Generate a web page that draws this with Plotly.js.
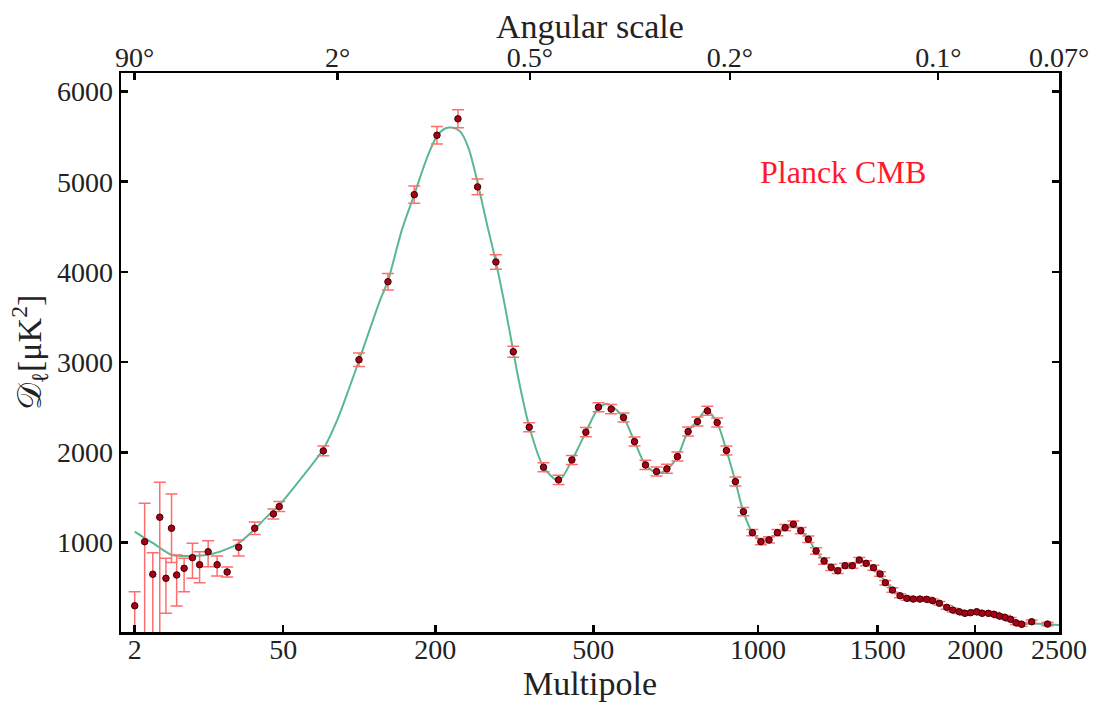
<!DOCTYPE html>
<html>
<head>
<meta charset="utf-8">
<script src="https://cdn.plot.ly/plotly-3.0.1.min.js"></script>
<style>html,body{margin:0;padding:0;background:#fff;}#chart{width:1109px;height:702px;}</style>
</head>
<body>
<div id="chart"></div>
<script>
// ---- data ----
const dataEll = [2, 3, 4, 5, 6, 7, 8, 9.6, 11.6, 13.5, 16, 18.9, 22.5, 27.1, 34.4, 44.2, 47.6, 78.1, 109.7, 140.2, 171.9, 202.4, 233.3, 264.6, 296, 327.7, 358.6, 387.7, 419.7, 449.5, 482, 512.5, 544.3, 576.3, 605.8, 636.2, 667.5, 697.8, 729.6, 762.5, 792, 824.3, 856.5, 888, 919, 947.2, 979.6, 1010.4, 1041, 1072.7, 1102.6, 1135, 1164.8, 1195.6, 1227.4, 1261, 1290.8, 1319.6, 1351.4, 1384, 1415, 1446.4, 1480, 1511, 1536, 1570, 1607, 1640, 1672.6, 1706, 1740, 1771, 1806, 1845, 1877, 1912, 1943, 1974, 2008, 2039, 2074, 2106, 2137, 2170, 2203, 2235, 2269, 2329.6, 2428];
const dataD = [301, 1011, 650, 1282, 605, 1160, 642, 716, 834, 756, 900, 756, 675, 949, 1160, 1318, 1400, 2017, 3027, 3892, 4857, 5515, 5697, 4943, 4111, 3116, 2280, 1836, 1696, 1917, 2225, 2502, 2480, 2387, 2120, 1862, 1788, 1818, 1954, 2231, 2342, 2461, 2331, 2021, 1677, 1344, 1111, 1011, 1030, 1111, 1166, 1204, 1133, 1038, 908, 797, 727, 689, 745, 745, 808, 771, 723, 653, 556, 475, 412, 383, 375, 375, 372, 357, 328, 283, 253, 235, 217, 224, 235, 217, 217, 206, 187, 172, 150, 112, 95, 124, 98];
const errPlus = [155, 426, 239, 388, 222, 380, 221, 110, 159, 144, 122, 96, 55, 81, 70, 55, 55, 55, 74, 92, 96, 98, 100, 87, 80, 60, 50, 50, 50, 50, 50, 50, 50, 50, 50, 50, 50, 50, 50, 50, 50, 50, 50, 50, 50, 45, 35, 35, 35, 35, 35, 35, 35, 35, 35, 35, 35, 30, 28, 28, 28, 28, 28, 25, 25, 25, 22, 22, 22, 22, 22, 20, 20, 20, 20, 20, 20, 20, 20, 20, 20, 20, 20, 20, 20, 20, 20, 20, 20];
const errMinus = [300, 1011, 650, 1282, 388, 380, 344, 260, 229, 200, 166, 126, 55, 96, 70, 55, 55, 55, 74, 92, 96, 98, 100, 87, 80, 60, 50, 50, 50, 50, 50, 50, 50, 50, 50, 50, 50, 50, 50, 50, 50, 50, 50, 50, 50, 45, 35, 35, 35, 35, 35, 35, 35, 35, 35, 35, 35, 30, 28, 28, 28, 28, 28, 25, 25, 25, 22, 22, 22, 22, 22, 20, 20, 20, 20, 20, 20, 20, 20, 20, 20, 20, 20, 20, 20, 20, 20, 20, 20];

const curveEll = [2, 3, 4.1, 5.5, 7.1, 11, 16.7, 22, 27, 34.4, 40, 48, 61, 78, 90, 100, 110, 131.7, 140, 156.6, 172, 188.6, 202, 214, 224, 237, 250, 265, 280, 296, 310, 328, 338, 359, 388, 420, 450, 482, 512, 533, 544, 576, 606, 636, 670, 698, 730, 762, 792, 820, 856, 888, 919, 947, 980, 1015, 1041, 1073, 1103, 1135, 1165, 1196, 1227, 1261, 1291, 1320, 1351, 1384, 1415, 1446, 1480, 1511, 1536, 1570, 1607, 1640, 1673, 1706, 1740, 1771, 1806, 1845, 1877, 1912, 1943, 1974, 2008, 2039, 2074, 2106, 2137, 2170, 2203, 2235, 2269, 2330, 2428, 2500];
const curveD = [1122, 1050, 993, 920, 864, 853, 871, 925, 993, 1149, 1275, 1425, 1700, 2035, 2370, 2700, 3027, 3693, 3895, 4469, 4860, 5265, 5500, 5590, 5600, 5555, 5370, 4980, 4543, 4111, 3693, 3116, 2805, 2280, 1836, 1688, 1917, 2225, 2490, 2539, 2520, 2390, 2120, 1862, 1770, 1810, 1954, 2231, 2350, 2470, 2331, 2021, 1677, 1344, 1111, 1020, 1040, 1105, 1165, 1195, 1133, 1038, 908, 797, 730, 700, 735, 765, 795, 775, 725, 650, 565, 480, 415, 385, 375, 372, 368, 355, 328, 285, 255, 235, 222, 222, 228, 220, 215, 205, 188, 170, 148, 118, 100, 105, 98, 87];

const bottomTicks = [2, 50, 200, 500, 1000, 1500, 2000, 2500];
const bottomLabels = ['2', '50', '200', '500', '1000', '1500', '2000', '2500'];
const topTickEll = [2, 90, 360, 900, 1800, 2500];
const topLabels = ['90°', '2°', '0.5°', '0.2°', '0.1°', '0.07°'];
const yTicks = [1000, 2000, 3000, 4000, 5000, 6000];

// ---- axis scale: multipole axis is linear in ell^0.4 ----
const P = 0.4;
const toU = l => Math.pow(l, P);
const xRange = [toU(1), toU(2500)];
const yRange = [10, 6205];

const serif = 'Liberation Serif, Times New Roman, serif';
const tickFont = {family: serif, size: 28, color: '#222'};
const titleFont = {family: serif, size: 34, color: '#222'};

const traces = [
  {
    x: curveEll.map(toU), y: curveD, type: 'scatter', mode: 'lines',
    line: {color: '#5ab891', width: 2, shape: 'spline', smoothing: 0.8},
    hoverinfo: 'skip', showlegend: false
  },
  {
    x: dataEll.map(toU), y: dataD, type: 'scatter', mode: 'markers',
    marker: {color: '#a80018', size: 6.5, line: {color: '#3a0000', width: 1}},
    error_y: {type: 'data', symmetric: false, array: errPlus, arrayminus: errMinus,
              color: '#ff6e6e', thickness: 1.5, width: 6},
    showlegend: false
  },
  {
    x: [toU(2), toU(2500)], y: [null, null], xaxis: 'x2', yaxis: 'y',
    type: 'scatter', mode: 'markers', showlegend: false, hoverinfo: 'skip'
  }
];

const layout = {
  width: 1109, height: 702,
  margin: {l: 121, r: 50, t: 73, b: 70},
  paper_bgcolor: '#fff', plot_bgcolor: '#fff',
  showlegend: false,
  xaxis: {
    range: xRange, tickmode: 'array', tickvals: bottomTicks.map(toU), ticktext: bottomLabels,
    ticks: 'inside', ticklen: 7, tickwidth: 2.5, tickcolor: '#000',
    showline: true, linewidth: 2.5, linecolor: '#000', mirror: false,
    showgrid: false, zeroline: false, tickfont: tickFont, ticklabelstandoff: -9,
    title: {text: 'Multipole', font: titleFont, standoff: 0}
  },
  xaxis2: {
    overlaying: 'x', side: 'top', anchor: 'y',
    range: xRange, tickmode: 'array', tickvals: topTickEll.map(toU), ticktext: topLabels,
    ticks: 'inside', ticklen: 7, tickwidth: 2.5, tickcolor: '#000',
    showline: true, linewidth: 2.5, linecolor: '#000',
    showgrid: false, zeroline: false, tickfont: tickFont, ticklabelstandoff: -8
  },
  yaxis: {
    range: yRange, tickmode: 'array', tickvals: yTicks,
    ticks: 'inside', ticklen: 7, tickwidth: 2.5, tickcolor: '#000',
    showline: true, linewidth: 2.5, linecolor: '#000', mirror: 'ticks',
    showgrid: false, zeroline: false, tickfont: tickFont,
    title: {text: '𝒟<sub>ℓ</sub>[μK<sup>2</sup>]', font: titleFont, standoff: 5}
  },
  annotations: [
    {
      xref: 'paper', yref: 'paper', x: (843 - 121) / 938, y: (632 - 172) / 559,
      xanchor: 'center', yanchor: 'middle', showarrow: false,
      text: 'Planck CMB', font: {family: serif, size: 32, color: '#ff1a2a'}
    },
    {
      xref: 'paper', yref: 'paper', x: 0.5, y: (632 - 27) / 559,
      xanchor: 'center', yanchor: 'middle', showarrow: false,
      text: 'Angular scale', font: titleFont
    }
  ]
};

Plotly.newPlot('chart', traces, layout, {displayModeBar: false, staticPlot: true});
</script>
</body>
</html>
